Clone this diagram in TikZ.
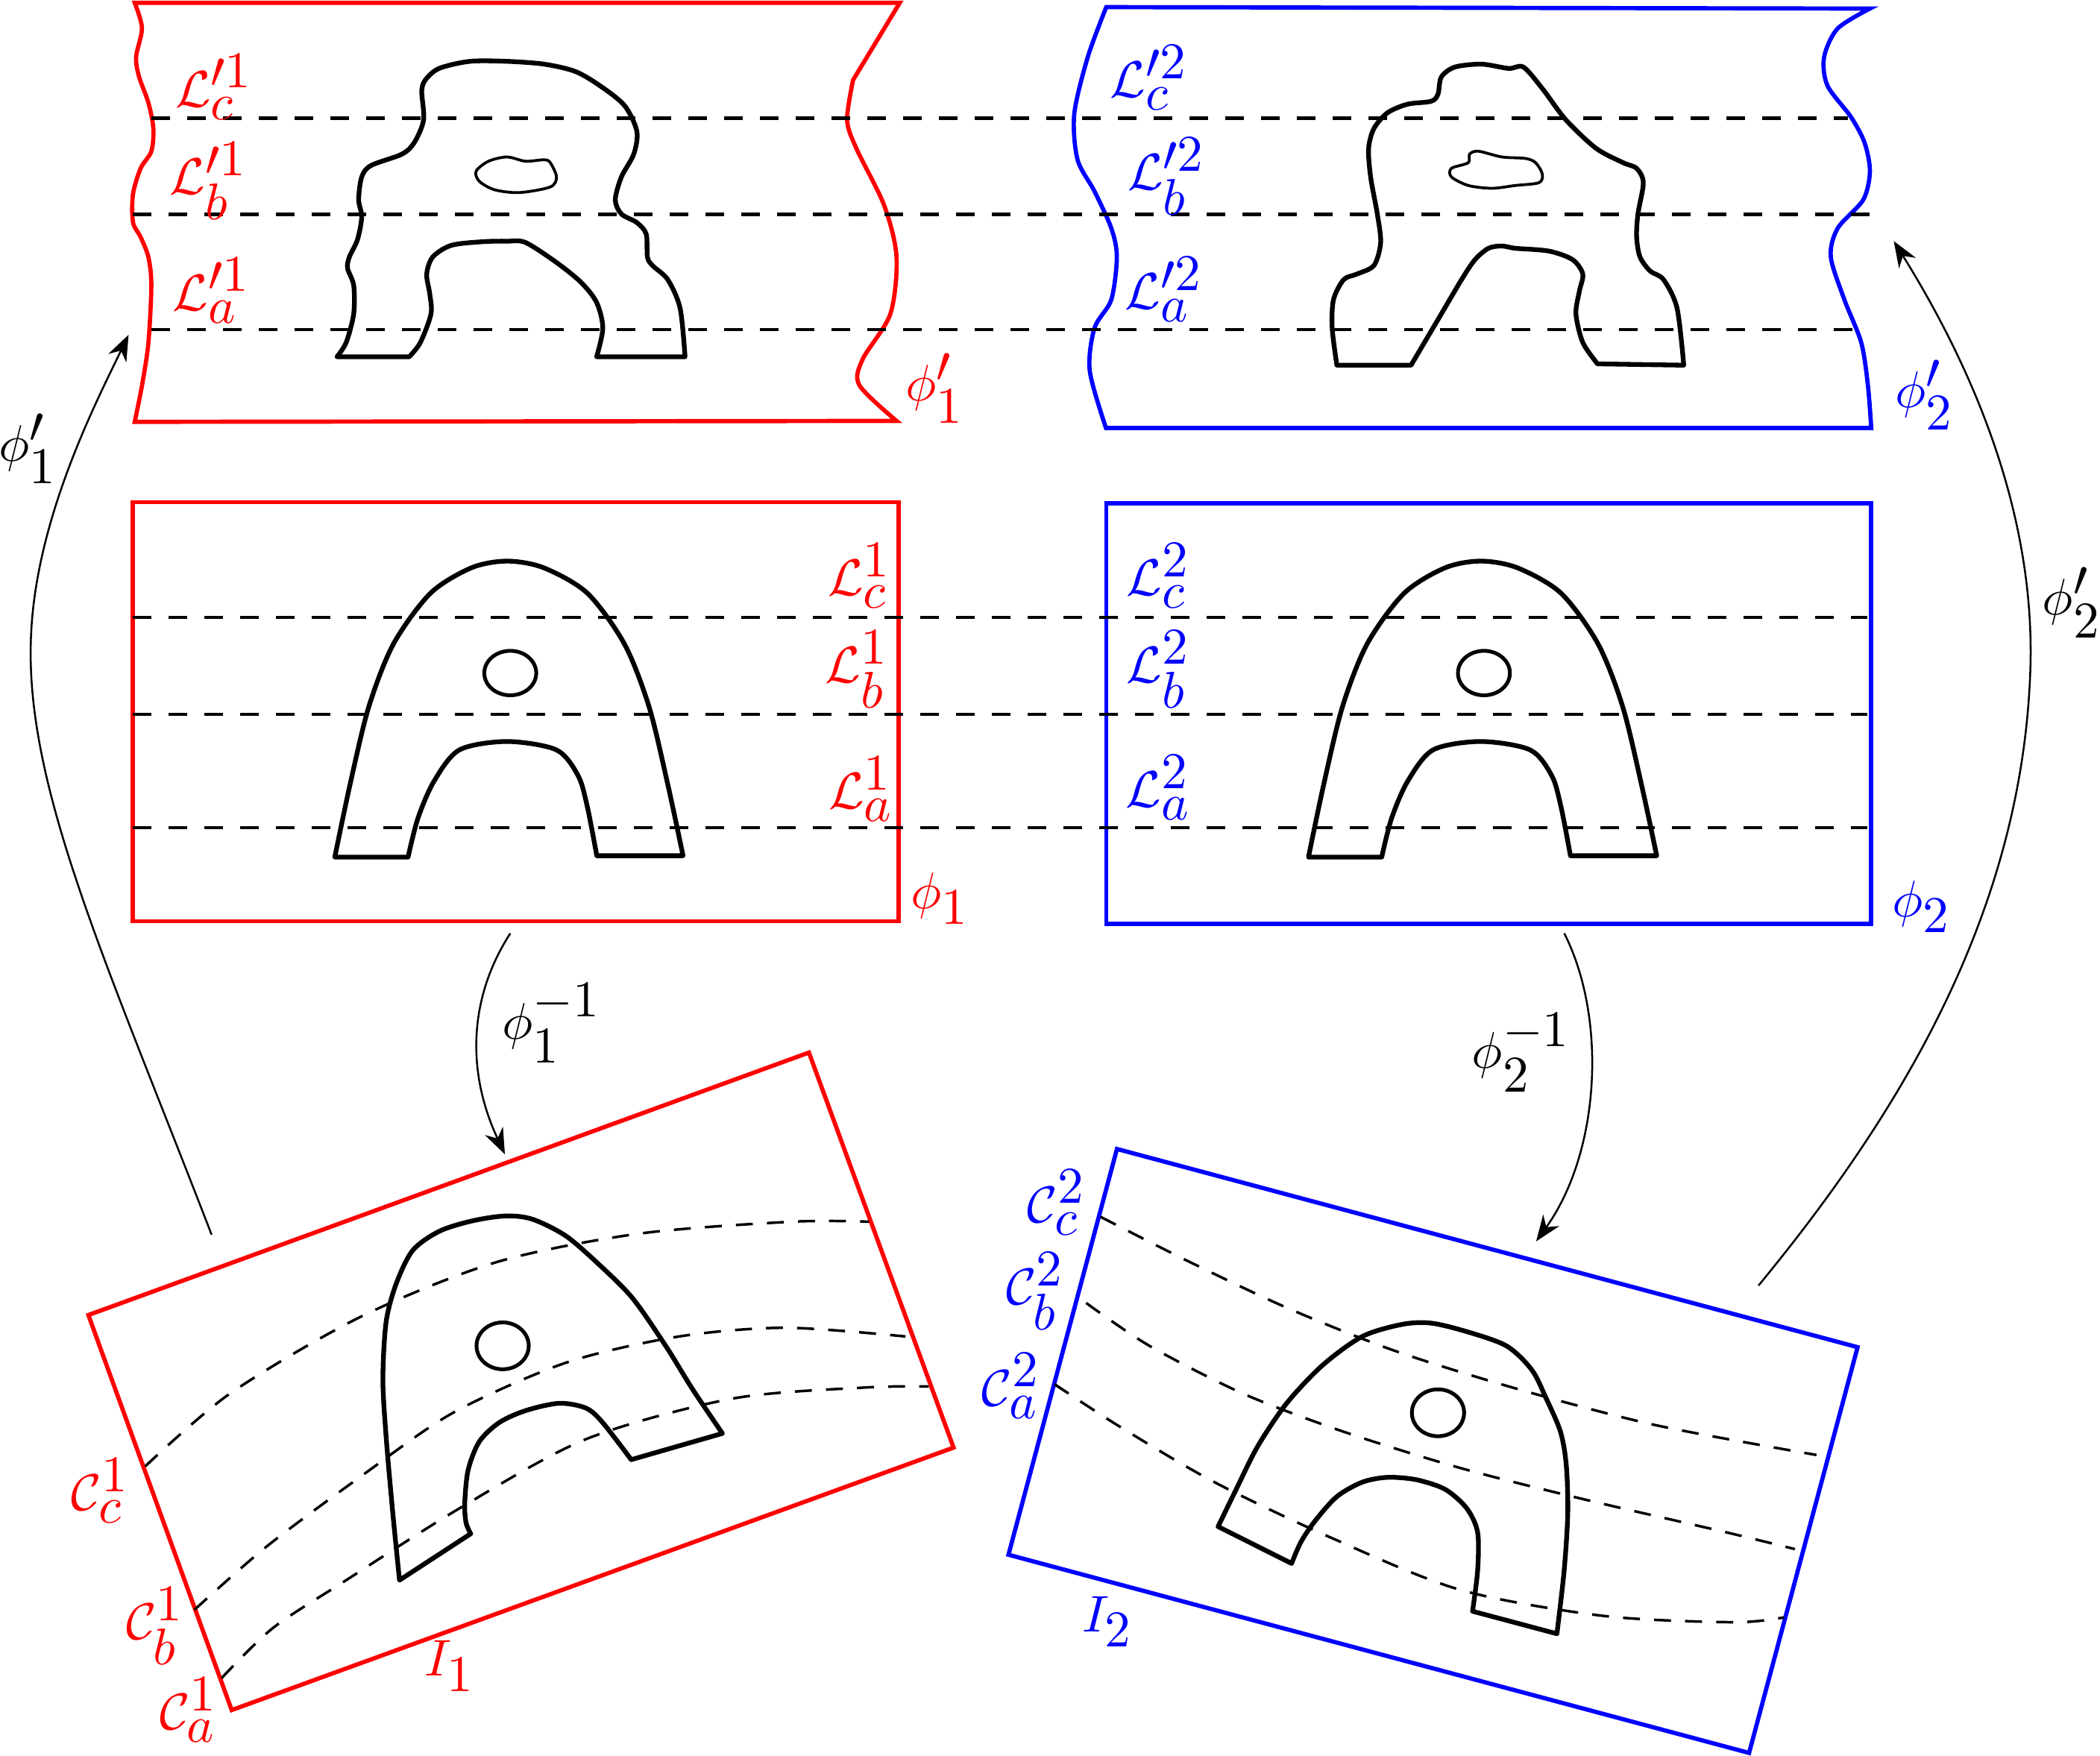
\documentclass[tikz,border=0pt]{standalone}
\usepackage{amsmath,amssymb}
\usepackage{xcolor}
\usepackage{tikz}
\usetikzlibrary{arrows.meta,calc,positioning}
\DeclareMathSizes{10}{10.95}{10.95}{8}
\definecolor{chartRed}{HTML}{FF0000}
\definecolor{chartBlue}{HTML}{0000FF}
\tikzset{
  redframe/.style={draw=chartRed, line width=0.9pt},
  blueframe/.style={draw=chartBlue, line width=0.9pt},
  bodyline/.style={line width=1pt, line join=round},
  holeline/.style={line width=0.8pt},
  chartline/.style={line width=0.75pt, dash pattern=on 4pt off 3.6pt},
  imageline/.style={line width=0.55pt, dash pattern=on 3.6pt off 3pt},
  maparrow/.style={line width=0.4pt, -{Stealth[length=5.5pt,width=4.2pt]}},
  redtag/.style={text=chartRed, inner sep=0pt},
  bluetag/.style={text=chartBlue, inner sep=0pt},
  blacktag/.style={inner sep=0pt},
}
\begin{document}
\begin{tikzpicture}[x=0.01cm, y=-0.01cm]
    \useasboundingbox (0,0) rectangle (1568,1311);

    % === Deformed charts phi'_1, phi'_2 (top row) ===
    \draw[redframe] (100.6,2.1) -- (671.8,2.1) -- (637,59.7)
      -- plot[smooth] coordinates {(637,59.7) (632.5,89.5) (639.4,110.8) (660.2,153.4) (669.4,191.8) (664.8,234.4) (644,268.5) (641.7,287.7) (669.4,314.3)}
      -- (100.6,315)
      -- plot[smooth] coordinates {(100.6,315) (106,288) (110.8,256) (113,213) (110.8,192) (105,177) (99.3,166) (99.3,145) (105,125.7) (113,113) (114.5,95.9) (110.8,76.7) (103.9,57.5) (101.6,42.6) (106,21) (100.6,2.1)}
      -- cycle;
    \draw[blueframe] (826,5.3) -- (1396.2,6.4)
      -- plot[smooth] coordinates {(1396.2,6.4) (1372.1,21.3) (1362,42.6) (1364.5,63.9) (1382.1,87.4) (1392.2,106.5) (1396.2,127.9) (1391.2,149.2) (1372.1,170.5) (1367,191.8) (1377.1,223.7) (1389.7,255.7) (1394.7,287.7) (1397.2,319.6)}
      -- (825.8,319.6)
      -- plot[smooth] coordinates {(825.8,319.6) (813.7,277) (817.2,245) (829.8,223.7) (833.9,191.8) (829.8,170.5) (817.2,142.8) (804.6,119.3) (802.1,85.2) (812.2,42.6) (826,5.3)}
      -- cycle;

    % --- deformed bodies ---
    \draw[bodyline] (251.6,266.4)
      -- plot[smooth] coordinates {(251.6,266.4) (258.5,255.7) (264.1,234.4) (264.1,213.1) (259.5,200.3) (260.9,191.8) (266.9,179) (270.1,161.9) (267.8,149.2) (270.1,132.1) (277,123.6) (300.1,115.1) (309.3,106.5) (316.3,89.5) (314.9,68.2) (317.6,59.7) (327.8,51.1) (350.9,45.8) (378.6,45.8) (406.3,47.9) (429.4,53.3) (447.8,63.9) (466.3,78.8) (475.5,98) (473.2,115.1) (464,132.1) (459.4,149.2) (464,159.8) (475.5,166.2) (482.5,174.7) (483.4,191.8) (487.1,198.2) (498.6,208.8) (507.8,230.1) (511.5,266.4)}
      -- (445.5,266.4)
      -- plot[smooth] coordinates {(445.5,266.4) (450.1,245) (445.5,225.9) (434,211) (415.5,196) (392.4,181.1) (378.6,180.1) (360.1,180.5) (337,183.2) (323.2,191.8) (318.6,204.6) (320.9,219.5) (321.8,234.4) (313.9,255.7) (305.6,266.4)}
      -- cycle;
    \draw[line width=0.6pt] plot[smooth cycle] coordinates {(355.5,127.8) (364.7,120.4) (378.6,117.2) (392.4,120.4) (406.3,119.3) (410.9,121.5) (415.5,132.1) (410.9,139.6) (387.8,143.8) (369.3,141.7) (357.8,135.3)};

    \draw[bodyline] (998.2,272.7)
      -- plot[smooth] coordinates {(998.2,272.7) (994.7,245) (995.7,223.7) (1003.3,208.8) (1013.3,204.6) (1025.9,198.2) (1030.9,181.1) (1028.4,159.8) (1023.4,132.1) (1021.9,110.8) (1025.9,95.9) (1036,84.2) (1051,77.8) (1068.6,75.6) (1073.7,70.3) (1076.2,57.5) (1086.2,50.1) (1106.3,47.9) (1126.5,51.1) (1137.5,50.1) (1151.6,66.1) (1169.2,89.5) (1191.8,110.8) (1212,121.5) (1222,125.7) (1227,136.4) (1223,159.8) (1222,176.9) (1224.5,191.8) (1232.1,202.4) (1242.1,208.8) (1252.2,230.1) (1257.2,272.7)}
      -- (1192.8,271.7)
      -- plot[smooth] coordinates {(1192.8,271.7) (1181.8,255.7) (1176.7,234.4) (1179.3,217.3) (1181.8,204.6) (1174.2,193.9) (1156.6,187.5) (1131.5,185.4) (1121.4,183.7) (1111.4,185.4) (1101.3,193.9) (1091.3,208.8) (1076.2,234.4) (1063.6,255.7) (1053.6,272.7)}
      -- cycle;
    \draw[line width=0.6pt] plot[smooth cycle] coordinates {(1096.3,121.5) (1097.3,115.1) (1103.8,112.9) (1121.4,117.2) (1139,118.3) (1146.6,121.5) (1151.6,130) (1149.1,136.4) (1131.5,138.5) (1113.9,140.6) (1096.3,138.5) (1083.7,132.1) (1083.7,125.7)};

    % --- level lines across both deformed charts ---
    \draw[chartline] (113,88.4) -- (1380,88.4);
    \draw[chartline] (99,160.2) -- (1396,160.2);
    \draw[chartline] (113,246.1) -- (1388,246.1);

    \node[redtag] (Lp1c) at (160,65) {$\mathcal{L}^{\prime 1}_c$};
    \node[redtag] (Lp1b) at (156,135) {$\mathcal{L}^{\prime 1}_b$};
    \node[redtag] (Lp1a) at (158,217) {$\mathcal{L}^{\prime 1}_a$};
    \node[redtag] (phip1) at (698,290) {$\phi'_1$};
    \node[bluetag] (Lp2c) at (858,58) {$\mathcal{L}^{\prime 2}_c$};
    \node[bluetag] (Lp2b) at (871,132) {$\mathcal{L}^{\prime 2}_b$};
    \node[bluetag] (Lp2a) at (869,216) {$\mathcal{L}^{\prime 2}_a$};
    \node[bluetag] (phip2) at (1437,295) {$\phi'_2$};

    % === Flat charts phi_1, phi_2 (middle row) ===
    \draw[redframe] (99,375) rectangle (671,688);
    \draw[blueframe] (826,376) rectangle (1397,690);
    \foreach \dx in {0,727}{
      \begin{scope}[shift={(\dx,0)}]
        \draw[bodyline] (250,640)
          -- plot[smooth] coordinates {(250,640) (261.4,585.7) (275.3,528) (293.7,481) (321.4,443) (352,424) (378.6,419) (406,424) (438.6,443) (466.3,481) (484.7,528) (498.6,585.7) (510,639)}
          -- (445.6,639)
          -- plot[smooth] coordinates {(445.6,639) (438.6,602.7) (431.7,579.3) (415.5,560) (378.6,553.7) (343,560) (324,583.5) (312,611.2) (304.7,640)}
          -- cycle;
        \draw[holeline] (381,502.6) ellipse [x radius=19.4, y radius=16.6];
      \end{scope}
    }
    \foreach \y in {461,533.4,618}{
      \draw[chartline] (99,\y) -- (1394,\y);
    }

    \node[redtag] (L1c) at (642,430) {$\mathcal{L}^{1}_c$};
    \node[redtag] (L1b) at (640,500) {$\mathcal{L}^{1}_b$};
    \node[redtag] (L1a) at (643,589) {$\mathcal{L}^{1}_a$};
    \node[redtag] (phi1) at (702,671) {$\phi_1$};
    \node[bluetag] (L2c) at (865,430) {$\mathcal{L}^{2}_c$};
    \node[bluetag] (L2b) at (865,500) {$\mathcal{L}^{2}_b$};
    \node[bluetag] (L2a) at (865,588) {$\mathcal{L}^{2}_a$};
    \node[bluetag] (phi2) at (1435,677) {$\phi_2$};

    % === Images I_1, I_2 (bottom row) ===
    \draw[redframe] (66,982) -- (604,786) -- (712,1081) -- (173,1277) -- cycle;
    \draw[bodyline] (298.3,1180)
      -- plot[smooth] coordinates {(298.3,1180) (293.3,1130) (288.3,1072.9) (285.9,1030.1) (288.3,987.2) (295.8,958.7) (308.2,933.7) (328.1,919.4) (353,911.6) (377.8,908) (397.7,910.5) (422.6,923) (447.4,944.4) (472.3,969.4) (497.1,1005.1) (517,1037.2) (539.4,1070.4)}
      -- (471.3,1090)
      -- plot[smooth] coordinates {(471.3,1090) (449.9,1062.2) (437.5,1051.5) (417.6,1047.9) (392.7,1053.3) (372.9,1062.2) (357.9,1076.5) (349.5,1097.9) (347,1122.9) (348,1137.2) (351.5,1145.3)}
      -- cycle;
    \draw[holeline] (375.3,1005) ellipse [x radius=19.5, y radius=17.5];
    \draw[imageline] plot[smooth] coordinates {(108.4,1095) (171.5,1040.8) (268.5,983.7) (370.4,942.6) (477.3,921.2) (591.6,912.3) (648.8,912.3)};
    \draw[imageline] plot[smooth] coordinates {(145.2,1202.1) (198.9,1155) (268.5,1103.2) (338.1,1055.1) (422.6,1017.6) (507.1,998) (586.6,991.5) (676.1,998)};
    \draw[imageline] plot[smooth] coordinates {(165.5,1253.1) (203.8,1215.7) (258.5,1180) (343,1126.4) (437.5,1074.7) (546.9,1044.4) (646.3,1036.1) (693.5,1035.4)};

    \draw[blueframe] (834,858) -- (1387,1006) -- (1306,1309) -- (753,1161) -- cycle;
    \draw[bodyline] (909.5,1140)
      -- plot[smooth] coordinates {(909.5,1140) (923,1112.2) (939.1,1080) (960.7,1047.9) (987.6,1019.4) (1017.2,998) (1046.8,989) (1068.3,988) (1095.2,994.4) (1124.9,1005.1) (1143.7,1022.9) (1154.5,1044.3) (1165.2,1069.3) (1169.5,1094.3) (1170.6,1130) (1167.9,1172.8) (1162.5,1220)}
      -- (1099.5,1203.2)
      -- plot[smooth] coordinates {(1099.5,1203.2) (1103.3,1172.8) (1103.3,1144.3) (1095.2,1126.4) (1079.1,1112.2) (1057.6,1105) (1036,1103.2) (1017.2,1106.8) (998.3,1117.5) (982.2,1135.4) (971.4,1151.4) (964.4,1167.5)}
      -- cycle;
    \draw[holeline] (1073.7,1055) ellipse [x radius=19.5, y radius=17.5];
    \draw[imageline] plot[smooth] coordinates {(821.8,908.7) (885.3,940.9) (960.7,976.5) (1041.4,1008.7) (1133,1037.2) (1235.2,1064) (1356.3,1086.5)};
    \draw[imageline] plot[smooth] coordinates {(811,973) (858.4,1005.1) (928.4,1040.8) (1003.7,1069.3) (1089.9,1096.1) (1181.4,1119.3) (1289.1,1144.3) (1340.2,1156.8)};
    \draw[imageline] plot[smooth] coordinates {(787.3,1033.6) (836.8,1065.8) (906.8,1106.8) (993,1147.9) (1089.9,1187.1) (1197.5,1206.7) (1294.4,1211.4) (1332.1,1207.8)};

    \node[redtag] (C1c) at (75,1113) {$\mathcal{C}^{1}_c$};
    \node[redtag] (C1b) at (116,1214) {$\mathcal{C}^{1}_b$};
    \node[redtag] (C1a) at (141,1277) {$\mathcal{C}^{1}_a$};
    \node[redtag] (I1) at (336,1244) {$I_1$};
    \node[bluetag] (C2c) at (789,898) {$\mathcal{C}^{2}_c$};
    \node[bluetag] (C2b) at (773,964) {$\mathcal{C}^{2}_b$};
    \node[bluetag] (C2a) at (755,1035) {$\mathcal{C}^{2}_a$};
    \node[bluetag] (I2) at (827,1211) {$I_2$};

    % === Transition maps ===
    \coordinate (m1out) at (381,697);
    \coordinate (i1in) at (377,862);
    \coordinate (m2out) at (1168,697);
    \coordinate (i2in) at (1147,927);
    \coordinate (i1out) at (158,922);
    \coordinate (t1in) at (96,250);
    \coordinate (i2out) at (1313,960);
    \coordinate (t2in) at (1414,180);

    \draw[maparrow] (m1out) .. controls (350,745) and (348,800) .. (i1in);
    \draw[maparrow] (m2out) .. controls (1200,760) and (1195,860) .. (i2in);
    \draw[maparrow] (i1out) .. controls (80,720) and (20,590) .. (23,480)
      .. controls (25,390) and (72,300) .. (t1in);
    \draw[maparrow] (i2out) .. controls (1420,830) and (1510,680) .. (1516,500)
      .. controls (1520,380) and (1470,270) .. (t2in);

    \node[blacktag] (phi1inv) at (412,764) {$\phi_1^{-1}$};
    \node[blacktag] (phi2inv) at (1136,786) {$\phi_2^{-1}$};
    \node[blacktag] (phip1map) at (21,335) {$\phi'_1$};
    \node[blacktag] (phip2map) at (1547,450) {$\phi'_2$};
\end{tikzpicture}
\end{document}
